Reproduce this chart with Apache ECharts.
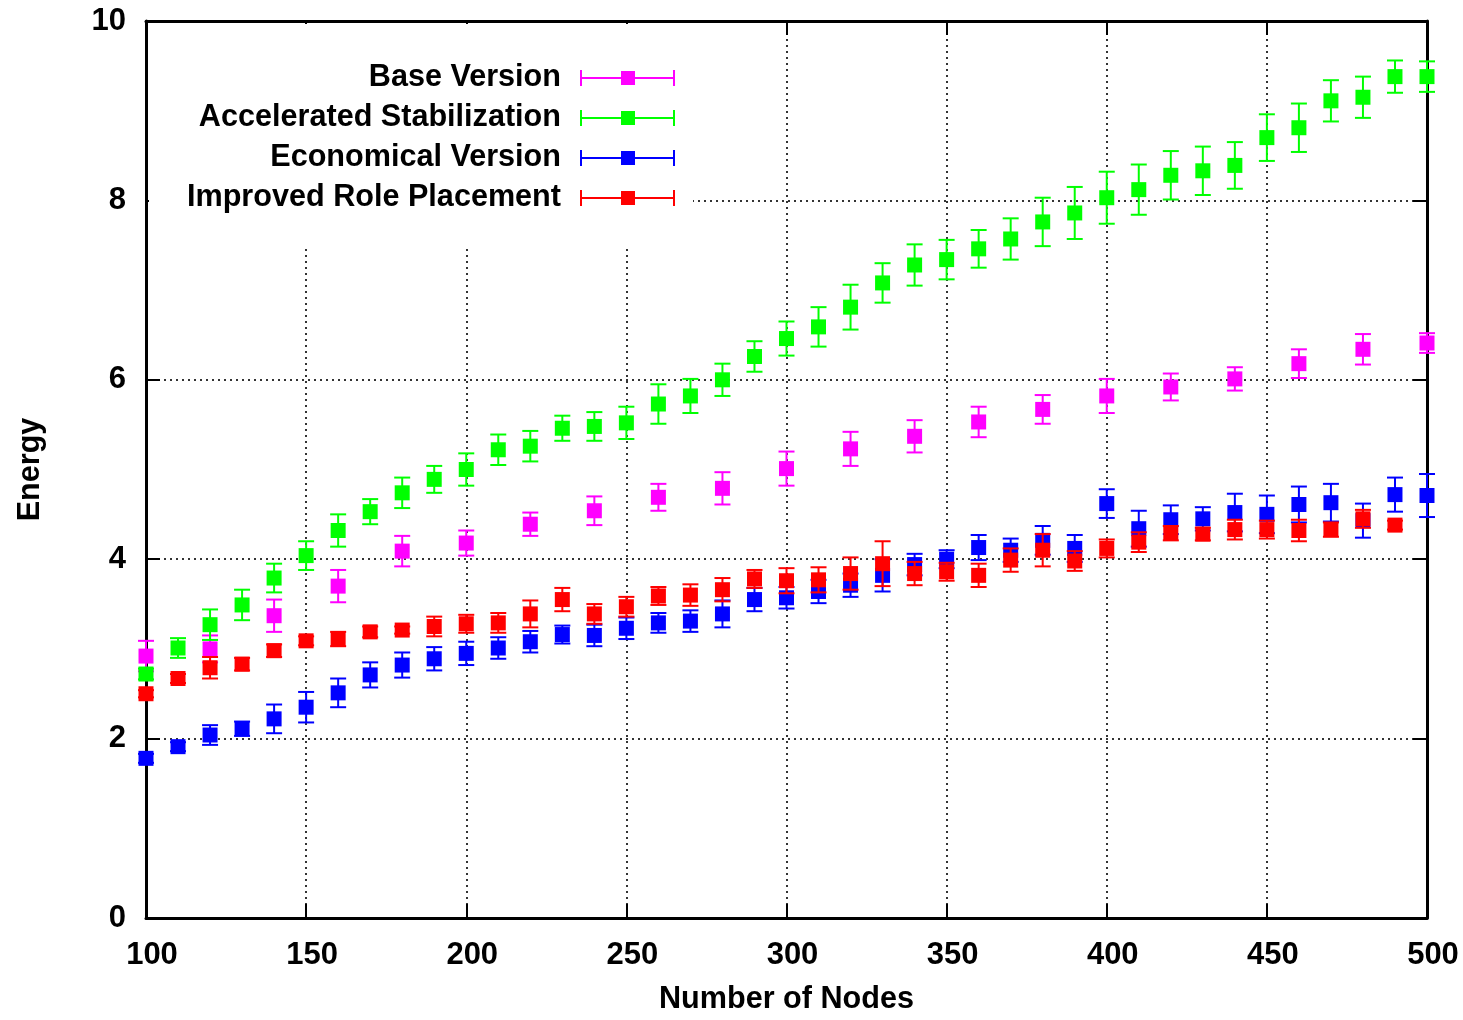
<!DOCTYPE html>
<html>
<head>
<meta charset="utf-8">
<script src="https://cdn.jsdelivr.net/npm/echarts@6/dist/echarts.min.js"></script>
<style>
html,body{margin:0;padding:0;background:#fff;}
#chart{width:1463px;height:1020px;}
</style>
</head>
<body>
<div id="chart"></div>
<script>
// ---- data ----
const seriesNames = ['Base Version', 'Accelerated Stabilization', 'Economical Version', 'Improved Role Placement'];
const seriesColors = ['#ff00ff', '#00ff00', '#0000ff', '#ff0000'];

const baseNodes  = [100,120,140,160,180,200,220,240,260,280,300,320,340,360,380,400,420,440,460,480,500];
const baseEnergy = [2.92,3.00,3.37,3.70,4.09,4.18,4.39,4.54,4.69,4.79,5.01,5.23,5.37,5.53,5.67,5.82,5.92,6.01,6.18,6.34,6.41];
const baseErr    = [0.17,0.15,0.18,0.18,0.17,0.14,0.13,0.16,0.15,0.18,0.19,0.19,0.18,0.17,0.16,0.19,0.15,0.13,0.16,0.17,0.11];

const nodes = [100,110,120,130,140,150,160,170,180,190,200,210,220,230,240,250,260,270,280,290,300,
               310,320,330,340,350,360,370,380,390,400,410,420,430,440,450,460,470,480,490,500];

const accelEnergy = [2.72,3.01,3.27,3.49,3.79,4.04,4.32,4.53,4.74,4.89,5.00,5.22,5.26,5.46,5.48,5.52,5.73,5.82,6.00,6.26,6.46,
                     6.59,6.81,7.08,7.28,7.34,7.46,7.57,7.76,7.86,8.03,8.12,8.28,8.33,8.39,8.70,8.81,9.11,9.15,9.38,9.38];
const accelErr    = [0.06,0.11,0.17,0.17,0.16,0.16,0.18,0.14,0.17,0.15,0.18,0.17,0.17,0.14,0.16,0.18,0.22,0.19,0.18,0.17,0.19,
                     0.22,0.25,0.22,0.23,0.22,0.21,0.23,0.27,0.29,0.29,0.28,0.27,0.27,0.26,0.26,0.27,0.23,0.23,0.18,0.17];

const econEnergy = [1.78,1.91,2.04,2.11,2.22,2.35,2.51,2.71,2.82,2.89,2.95,3.01,3.08,3.16,3.15,3.23,3.29,3.31,3.39,3.55,3.57,
                    3.64,3.71,3.82,3.94,4.00,4.13,4.10,4.21,4.12,4.62,4.34,4.44,4.45,4.52,4.50,4.61,4.63,4.43,4.72,4.71];
const econErr    = [0.05,0.05,0.11,0.08,0.16,0.17,0.16,0.14,0.14,0.13,0.13,0.12,0.12,0.10,0.12,0.12,0.11,0.12,0.15,0.13,0.12,
                    0.13,0.13,0.18,0.12,0.10,0.14,0.13,0.16,0.15,0.16,0.20,0.16,0.13,0.21,0.21,0.20,0.21,0.19,0.19,0.24];

const roleNodes  = nodes.slice(0, 40);
const roleEnergy = [2.50,2.67,2.79,2.83,2.98,3.09,3.11,3.19,3.21,3.25,3.28,3.29,3.39,3.55,3.39,3.47,3.59,3.60,3.66,3.78,3.76,
                    3.77,3.84,3.95,3.84,3.86,3.82,3.99,4.10,3.98,4.12,4.19,4.29,4.28,4.33,4.33,4.32,4.33,4.45,4.38];
const roleErr    = [0.04,0.05,0.12,0.07,0.07,0.05,0.08,0.06,0.04,0.11,0.10,0.11,0.15,0.13,0.11,0.11,0.10,0.12,0.13,0.10,0.14,
                    0.14,0.18,0.25,0.13,0.10,0.13,0.13,0.18,0.11,0.10,0.11,0.08,0.07,0.11,0.10,0.12,0.08,0.10,0.05];

const xTicks = {min: 100, max: 500, interval: 50};
const yTicks = {min: 0, max: 10, interval: 2};

// ---- build ----
function zip(xs, ys, es) { return xs.map((x, i) => [x, ys[i], es[i]]); }
const seriesData = [
  zip(baseNodes, baseEnergy, baseErr),
  zip(nodes, accelEnergy, accelErr),
  zip(nodes, econEnergy, econErr),
  zip(roleNodes, roleEnergy, roleErr)
];

function renderErr(params, api) {
  const x = api.value(0), y = api.value(1), e = api.value(2);
  const c = api.coord([x, y]);
  const hi = api.coord([x, y + e]);
  const lo = api.coord([x, y - e]);
  const color = api.visual('color');
  const cap = 8, sq = 15, lw = 2;
  return {
    type: 'group',
    children: [
      {type: 'line', shape: {x1: c[0], y1: hi[1], x2: c[0], y2: lo[1]}, style: {stroke: color, lineWidth: lw}},
      {type: 'line', shape: {x1: c[0] - cap, y1: hi[1], x2: c[0] + cap, y2: hi[1]}, style: {stroke: color, lineWidth: lw}},
      {type: 'line', shape: {x1: c[0] - cap, y1: lo[1], x2: c[0] + cap, y2: lo[1]}, style: {stroke: color, lineWidth: lw}},
      {type: 'rect', shape: {x: c[0] - sq / 2, y: c[1] - sq / 2, width: sq, height: sq}, style: {fill: color}}
    ]
  };
}

const FONT = 'Liberation Sans, Arial, Helvetica, sans-serif';
const gridLeft = 146, gridTop = 21, gridW = 1281, gridH = 901;

const legendIcon = 'path://M0,0h2v16h-2z M93,0h2v16h-2z M2,7h91v2h-91z M41,1h14v14h-14z';
const legendRows = [78, 118, 158, 198];
const legends = seriesNames.map((name, i) => ({
  data: [name],
  orient: 'vertical',
  align: 'right',
  right: 1463 - 675,
  top: legendRows[i] - 17,
  padding: 0,
  itemWidth: 95,
  itemHeight: 16,
  icon: legendIcon,
  symbolKeepAspect: false,
  selectedMode: false,
  textStyle: {fontFamily: FONT, fontWeight: 'bold', fontSize: 30.6, color: '#000', lineHeight: 34, padding: [0, 14, 0, 0]}
}));

const axisCommon = {
  type: 'value',
  axisLine: {show: true, onZero: false, lineStyle: {color: '#000', width: 3}},
  axisTick: {show: true, inside: true, length: 14, lineStyle: {color: '#000', width: 2}},
};
const gridLineStyle = {color: '#333', width: 2, type: [2, 4]};

const chart = echarts.init(document.getElementById('chart'), null, {renderer: 'canvas'});
chart.setOption({
  backgroundColor: '#fff',
  animation: false,
  grid: {left: gridLeft, top: gridTop, width: gridW, height: gridH, containLabel: false},
  legend: legends,
  graphic: [{
    type: 'rect', z: 1, silent: true,
    shape: {x: gridLeft + 3, y: gridTop + 3, width: 544, height: 222},
    style: {fill: '#fff'}
  }],
  xAxis: [
    Object.assign({}, axisCommon, {
      position: 'bottom', min: xTicks.min, max: xTicks.max, interval: xTicks.interval,
      name: 'Number of Nodes', nameLocation: 'middle', nameGap: 66,
      nameTextStyle: {fontFamily: FONT, fontWeight: 'bold', fontSize: 30.6, color: '#000'},
      axisLabel: {fontFamily: FONT, fontWeight: 'bold', fontSize: 31, color: '#000', margin: 22, padding: [0, 0, 0, 12]},
      splitLine: {show: true, lineStyle: gridLineStyle}
    }),
    Object.assign({}, axisCommon, {
      position: 'top', min: xTicks.min, max: xTicks.max, interval: xTicks.interval,
      axisLabel: {show: false}, splitLine: {show: false}
    })
  ],
  yAxis: [
    Object.assign({}, axisCommon, {
      position: 'left', min: yTicks.min, max: yTicks.max, interval: yTicks.interval,
      name: 'Energy', nameLocation: 'middle', nameGap: 100, nameRotate: 90,
      nameTextStyle: {fontFamily: FONT, fontWeight: 'bold', fontSize: 30.6, color: '#000'},
      axisLabel: {fontFamily: FONT, fontWeight: 'bold', fontSize: 31, color: '#000', margin: 20},
      splitLine: {show: true, lineStyle: gridLineStyle}
    }),
    Object.assign({}, axisCommon, {
      position: 'right', min: yTicks.min, max: yTicks.max, interval: yTicks.interval,
      axisLabel: {show: false}, splitLine: {show: false}
    })
  ],
  series: seriesNames.map((name, i) => ({
    name: name,
    type: 'custom',
    xAxisIndex: 0,
    yAxisIndex: 0,
    z: 2 + i,
    clip: false,
    itemStyle: {color: seriesColors[i]},
    encode: {x: 0, y: 1},
    renderItem: renderErr,
    data: seriesData[i]
  }))
});
</script>
</body>
</html>
